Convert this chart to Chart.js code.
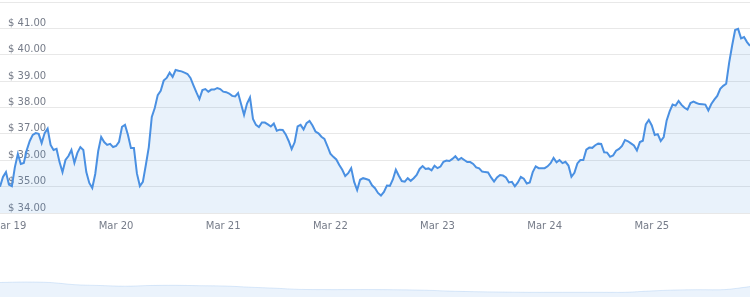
<!DOCTYPE html>
<html>
<head>
<meta charset="utf-8">
<script src="https://cdn.jsdelivr.net/npm/chart.js@4.4.1/dist/chart.umd.min.js"></script>
<style>
  html, body { margin: 0; padding: 0; background: #fff; }
  #wrap { position: relative; width: 750px; height: 297px; overflow: hidden; }
  #mainBox { position: absolute; left: 0; top: 0; width: 750px; height: 240px; }
  #navBox { position: absolute; left: 0; top: 277px; width: 750px; height: 20px; }
</style>
</head>
<body>
<div id="wrap">
  <div id="mainBox"><canvas id="priceCanvas"></canvas></div>
  <div id="navBox"><canvas id="navCanvas"></canvas></div>
</div>
<script>
// x axis: hours since Mar 19 00:00, one sample every 40 minutes
const dayLabels = ['Mar 19', 'Mar 20', 'Mar 21', 'Mar 22', 'Mar 23', 'Mar 24', 'Mar 25'];
const dayHours = [0, 24, 48, 72, 96, 120, 144];
const firstHour = -2;
const stepHours = 2 / 3;

// price in $
const prices = [
  35.00, 35.37, 35.55, 35.08, 35.02, 35.74, 36.24, 35.86, 35.90, 36.39,
  36.73, 36.96, 37.03, 37.00, 36.65, 37.03, 37.20, 36.58, 36.39, 36.43,
  35.93, 35.55, 36.01, 36.16, 36.39, 35.90, 36.28, 36.50, 36.39, 35.55,
  35.14, 34.95, 35.48, 36.35, 36.88, 36.69, 36.58, 36.62, 36.50, 36.54,
  36.70, 37.27, 37.34, 36.96, 36.46, 36.46, 35.50, 35.02, 35.18, 35.82,
  36.50, 37.64, 37.98, 38.47, 38.63, 39.02, 39.12, 39.32, 39.16, 39.42,
  39.39, 39.37, 39.32, 39.27, 39.12, 38.84, 38.57, 38.32, 38.66, 38.70,
  38.60, 38.68, 38.68, 38.74, 38.70, 38.60, 38.58, 38.53, 38.44, 38.42,
  38.55, 38.13, 37.72, 38.15, 38.38, 37.57, 37.34, 37.26, 37.43, 37.43,
  37.36, 37.28, 37.39, 37.12, 37.16, 37.15, 36.98, 36.73, 36.42, 36.68,
  37.28, 37.34, 37.17, 37.41, 37.49, 37.32, 37.09, 37.02, 36.89, 36.81,
  36.54, 36.25, 36.13, 36.03, 35.82, 35.64, 35.40, 35.51, 35.70, 35.18,
  34.87, 35.26, 35.32, 35.29, 35.25, 35.05, 34.94, 34.76, 34.66, 34.80,
  35.04, 35.03, 35.27, 35.64, 35.41, 35.21, 35.19, 35.32, 35.22, 35.32,
  35.44, 35.67, 35.78, 35.67, 35.69, 35.62, 35.79, 35.70, 35.76, 35.94,
  35.99, 35.97, 36.05, 36.15, 36.01, 36.09, 36.01, 35.93, 35.93, 35.86,
  35.73, 35.69, 35.57, 35.55, 35.54, 35.35, 35.19, 35.35, 35.44, 35.42,
  35.35, 35.16, 35.18, 35.01, 35.16, 35.37, 35.30, 35.12, 35.16, 35.55,
  35.77, 35.70, 35.70, 35.70, 35.77, 35.89, 36.09, 35.92, 36.01, 35.89,
  35.94, 35.80, 35.37, 35.52, 35.88, 36.01, 36.01, 36.40, 36.48, 36.47,
  36.57, 36.63, 36.62, 36.30, 36.29, 36.13, 36.18, 36.36, 36.43, 36.54,
  36.77, 36.72, 36.64, 36.56, 36.37, 36.69, 36.74, 37.36, 37.53, 37.32,
  36.96, 36.99, 36.73, 36.88, 37.51, 37.85, 38.11, 38.07, 38.25, 38.10,
  37.99, 37.92, 38.17, 38.22, 38.17, 38.13, 38.12, 38.11, 37.89, 38.13,
  38.30, 38.44, 38.71, 38.82, 38.90, 39.70, 40.35, 40.94, 40.98, 40.62,
  40.67, 40.48, 40.34
];

// navigator strip (longer history, relative level)
const navLevels = [
  14.5, 15.0, 14.5, 12.3, 11.5, 10.8, 11.5, 11.7, 11.3, 11.0,
  9.8, 8.8, 7.6, 7.4, 7.4, 7.4, 7.2, 6.8, 5.9, 5.3,
  5.0, 4.7, 4.7, 4.7, 4.7, 4.7, 6.0, 7.0, 7.3, 7.4, 10.4
];

const labelFont = { family: 'DejaVu Sans', size: 10 };
const labelColor = '#767c89';

const points = prices.map((p, i) => ({ x: firstHour + i * stepHours, y: p }));

new Chart(document.getElementById('priceCanvas'), {
  type: 'line',
  data: {
    datasets: [{
      data: points,
      borderColor: '#4a90e2',
      borderWidth: 2,
      backgroundColor: 'rgba(74, 144, 226, 0.12)',
      fill: 'start',
      pointRadius: 0,
      tension: 0
    }]
  },
  options: {
    responsive: true,
    maintainAspectRatio: false,
    animation: false,
    layout: { padding: { top: 2, left: 0, right: 0, bottom: 0 } },
    plugins: { legend: { display: false }, tooltip: { enabled: false } },
    scales: {
      x: {
        type: 'linear',
        min: -2,
        max: 166,
        grid: { display: false, drawTicks: false, tickLength: 0 },
        border: { display: false },
        afterBuildTicks: (scale) => { scale.ticks = dayHours.map(v => ({ value: v })); },
        afterFit: (scale) => { scale.height = 27; scale.paddingLeft = 0; scale.paddingRight = 0; },
        ticks: {
          autoSkip: false,
          maxRotation: 0,
          padding: 7,
          color: labelColor,
          font: labelFont,
          callback: (v) => dayLabels[dayHours.indexOf(v)]
        }
      },
      y: {
        min: 34,
        max: 42,
        grid: { color: '#e8e8e8', lineWidth: 1, drawTicks: false, tickLength: 0 },
        border: { display: false },
        afterFit: (scale) => { scale.width = 0; scale.paddingTop = 0; scale.paddingBottom = 0; },
        ticks: {
          stepSize: 1,
          mirror: true,
          padding: 8,
          labelOffset: -5,
          color: labelColor,
          font: labelFont,
          callback: (v) => v === 42 ? '' : '$ ' + v.toFixed(2)
        }
      }
    }
  }
});

new Chart(document.getElementById('navCanvas'), {
  type: 'line',
  data: {
    labels: navLevels.map((v, i) => i),
    datasets: [{
      data: navLevels,
      borderColor: 'rgba(74, 144, 226, 0.18)',
      borderWidth: 1,
      backgroundColor: 'rgba(74, 144, 226, 0.11)',
      fill: 'start',
      pointRadius: 0,
      tension: 0.3
    }]
  },
  options: {
    responsive: true,
    maintainAspectRatio: false,
    animation: false,
    layout: { padding: 0 },
    plugins: { legend: { display: false }, tooltip: { enabled: false } },
    scales: {
      x: { display: false },
      y: { display: false, min: 0, max: 20 }
    }
  }
});
</script>
</body>
</html>
